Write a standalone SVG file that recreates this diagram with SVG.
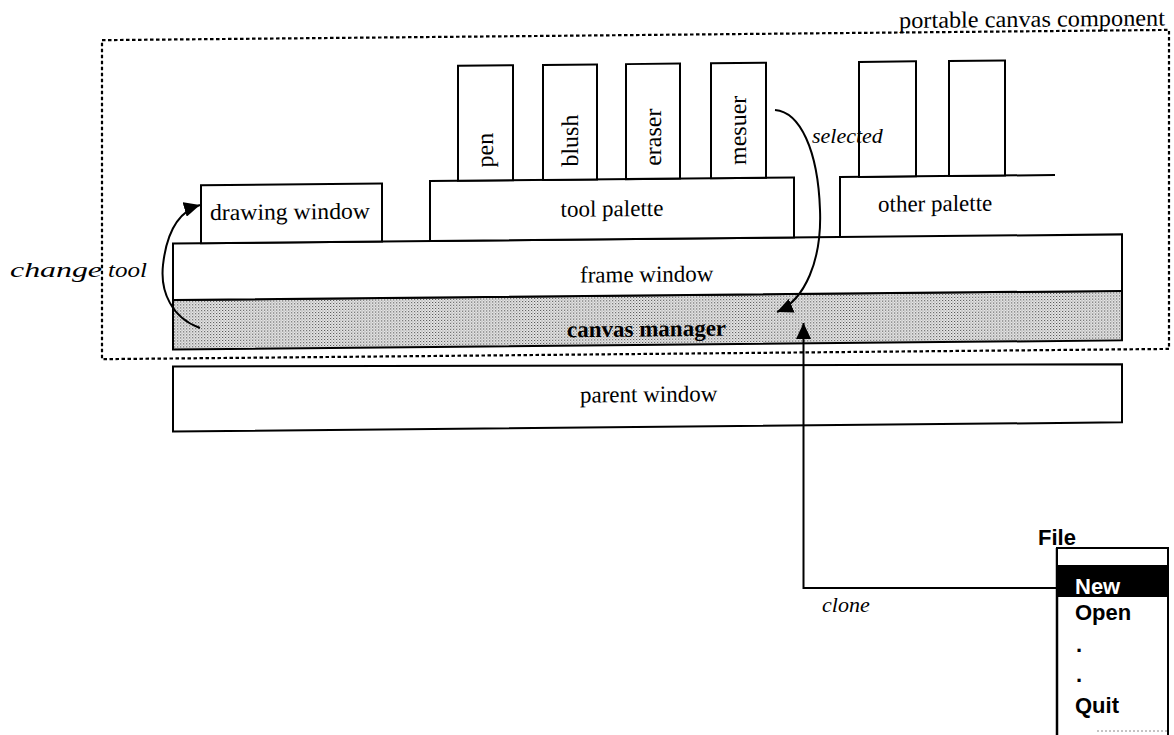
<svg xmlns="http://www.w3.org/2000/svg" width="1174" height="735" viewBox="0 0 1174 735">
  <style>
    .box { fill: #fff; stroke: #000; stroke-width: 2; }
    .edge { fill: none; stroke: #000; stroke-width: 2; }
    .lbl { font-family: "Liberation Serif", "Times New Roman", serif; font-size: 23px; fill: #000; }
    .vlbl { font-family: "Liberation Serif", "Times New Roman", serif; font-size: 24px; fill: #000; }
    .bold { font-weight: bold; }
    .ital { font-family: "Liberation Serif", "Times New Roman", serif; font-style: italic; font-size: 22px; fill: #000; }
    .menu { font-family: "Liberation Sans", Arial, sans-serif; font-weight: bold; font-size: 22px; fill: #000; }
    .frame { fill: none; stroke: #000; stroke-width: 2.2; stroke-dasharray: 3.5 2.5; }
    .wire { fill: none; stroke: #000; stroke-width: 2; }
  </style>
  <defs>
    <pattern id="stipple" width="3" height="3" patternUnits="userSpaceOnUse">
      <rect width="3" height="3" fill="#e6e6e6"/>
      <rect x="0" y="0" width="1" height="1" fill="#444"/>
      <rect x="1.5" y="1.5" width="1" height="1" fill="#777"/>
    </pattern>
    <marker id="head" viewBox="0 0 16 15" markerWidth="16" markerHeight="15" refX="16" refY="7.5" orient="auto" markerUnits="userSpaceOnUse">
      <path d="M0,0 L16,7.5 L0,15 z" fill="#000"/>
    </marker>
  </defs>

  <rect width="1174" height="735" fill="#fff"/>

  <!-- window stack, drawn with the slight slope of the page -->
  <g transform="translate(0,6.14) skewY(-0.55)">
    <g id="component-boundary">
      <rect class="frame" x="102" y="35" width="1067" height="319"/>
      <text class="lbl" x="899" y="30.5" font-size="21" textLength="266" lengthAdjust="spacingAndGlyphs">portable canvas component</text>
    </g>

    <g id="parent-window">
      <polygon class="box" points="173,362 1122,369 1122,427 173,427"/>
      <text class="lbl" x="580" y="402">parent window</text>
    </g>

    <g id="canvas-manager">
      <rect x="173" y="295.5" width="949" height="49.5" fill="url(#stipple)" stroke="#000" stroke-width="2"/>
      <text class="lbl bold" x="567" y="336.5">canvas manager</text>
    </g>

    <g id="frame-window">
      <rect class="box" x="173" y="239" width="949" height="56.5"/>
      <text class="lbl" x="580" y="282">frame window</text>
    </g>

    <g id="drawing-window">
      <rect class="box" x="201" y="181" width="181" height="58"/>
      <text class="lbl" x="210" y="216" textLength="160" lengthAdjust="spacingAndGlyphs">drawing window</text>
    </g>

    <g id="tool-palette">
      <rect class="box" x="430" y="179" width="364" height="60"/>
      <text class="lbl" x="612" y="216" text-anchor="middle">tool palette</text>
    </g>

    <g id="tool-pen">
      <rect class="box" x="458" y="64" width="55" height="115"/>
      <text class="vlbl" transform="translate(493,166) rotate(-90)">pen</text>
    </g>
    <g id="tool-blush">
      <rect class="box" x="543" y="64" width="54" height="115"/>
      <text class="vlbl" transform="translate(578,166) rotate(-90)">blush</text>
    </g>
    <g id="tool-eraser">
      <rect class="box" x="626" y="64" width="54" height="115"/>
      <text class="vlbl" transform="translate(661,166) rotate(-90)">eraser</text>
    </g>
    <g id="tool-mesuer">
      <rect class="box" x="711" y="64" width="55" height="115"/>
      <text class="vlbl" transform="translate(746,166) rotate(-90)">mesuer</text>
    </g>

    <g id="other-palette">
      <polyline class="edge" points="840,239 840,179 1055,179"/>
      <text class="lbl" x="878" y="214">other palette</text>
    </g>
    <g id="other-item-1">
      <rect class="box" x="859" y="64" width="57" height="115"/>
    </g>
    <g id="other-item-2">
      <rect class="box" x="949" y="64" width="56" height="115"/>
    </g>
  </g>

  <!-- File menu -->
  <g id="file-menu">
    <text class="menu" x="1038" y="545">File</text>
    <line x1="1057" y1="548" x2="1057" y2="735" stroke="#000" stroke-width="2.5"/>
    <line x1="1168" y1="548" x2="1168" y2="735" stroke="#000" stroke-width="2"/>
    <rect x="1057" y="548" width="111" height="18" fill="#fff" stroke="#000" stroke-width="2"/>
    <rect x="1057" y="566" width="111" height="31" fill="#000"/>
    <text class="menu" x="1075" y="594" style="fill:#fff">New</text>
    <text class="menu" x="1075" y="620">Open</text>
    <text class="menu" x="1076" y="652">.</text>
    <text class="menu" x="1076" y="682">.</text>
    <text class="menu" x="1075" y="713">Quit</text>
    <line x1="1097" y1="731" x2="1168" y2="731" stroke="#888" stroke-width="1" stroke-dasharray="2 2"/>
  </g>

  <!-- connectors -->
  <g id="connectors">
    <path class="wire" d="M200,328 C172,318 160,292 163,265 C166,238 176,212 200,205" marker-end="url(#head)"/>
    <text class="ital" x="10" y="277" font-size="20" textLength="92" lengthAdjust="spacingAndGlyphs">change</text>
    <text class="ital" x="108" y="277" font-size="20" textLength="39" lengthAdjust="spacingAndGlyphs">tool</text>

    <path class="wire" d="M775,110 C800,112 818,150 820,210 C822,260 805,300 777,312" marker-end="url(#head)"/>
    <text class="ital" x="812" y="143">selected</text>

    <path class="wire" d="M1057,588 L803.5,588 L803.5,323" marker-end="url(#head)"/>
    <text class="ital" x="822" y="612">clone</text>
  </g>
</svg>
